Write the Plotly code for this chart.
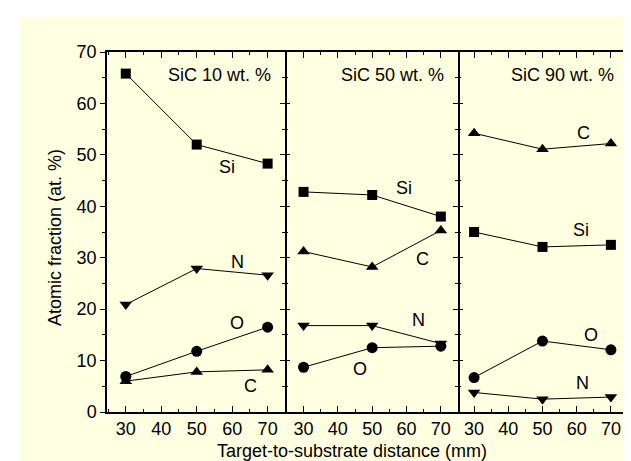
import plotly.graph_objects as go

distance = [30, 50, 70]
panels = ["SiC 10 wt. %", "SiC 50 wt. %", "SiC 90 wt. %"]

si_10 = [65.8, 52.0, 48.3]
n_10 = [20.9, 27.9, 26.6]
o_10 = [6.9, 11.8, 16.5]
c_10 = [6.0, 7.8, 8.2]

si_50 = [42.8, 42.2, 38.0]
c_50 = [31.2, 28.2, 35.3]
n_50 = [16.8, 16.8, 13.3]
o_50 = [8.7, 12.5, 12.8]

c_90 = [54.2, 51.1, 52.2]
si_90 = [35.0, 32.1, 32.5]
o_90 = [6.7, 13.8, 12.1]
n_90 = [3.8, 2.5, 2.9]

x_ticks = [30, 40, 50, 60, 70]
y_ticks = [0, 10, 20, 30, 40, 50, 60, 70]

symbols = {"Si": "square", "C": "triangle-up", "N": "triangle-down", "O": "circle"}
series = [
    [("Si", si_10), ("N", n_10), ("O", o_10), ("C", c_10)],
    [("Si", si_50), ("C", c_50), ("N", n_50), ("O", o_50)],
    [("C", c_90), ("Si", si_90), ("O", o_90), ("N", n_90)],
]
# label placements (data coordinates of each panel)
label_pos = [
    {"Si": (58.5, 47.7), "N": (61.6, 29.2), "O": (61.4, 17.4), "C": (65.3, 5.1)},
    {"Si": (59.2, 43.6), "C": (64.8, 29.7), "N": (63.6, 17.8), "O": (46.4, 8.4)},
    {"C": (62.1, 54.3), "Si": (61.2, 35.4), "O": (64.1, 14.9), "N": (61.8, 5.6)},
]

W, H = 631, 461
L, R, T, B = 99, 11, 44, 57
pw = W - L - R
ph = H - T - B
edges = [99, 277, 450, 620]
xranges = [[24.7, 74.9], [24.6, 75.0], [25.3, 75.0]]

FONT = "Liberation Sans, Arial, sans-serif"
FS = 18
YEL = "#FFFFE2"

fig = go.Figure()
msize = {"square": 10, "triangle-up": 11, "triangle-down": 11, "circle": 11}

for i in range(3):
    xa = "x" if i == 0 else f"x{i+1}"
    ya = "y" if i == 0 else f"y{i+1}"
    for name, vals in series[i]:
        sym = symbols[name]
        fig.add_trace(go.Scatter(
            x=distance, y=vals, mode="lines+markers", xaxis=xa, yaxis=ya,
            line=dict(color="black", width=1),
            marker=dict(symbol=sym, size=msize[sym], color="black"),
            showlegend=False, hoverinfo="skip"))
        lx, ly = label_pos[i][name]
        fig.add_annotation(x=lx, y=ly, xref=xa, yref=ya, text=name, showarrow=False,
                           font=dict(size=FS, color="black", family=FONT))
    fig.add_annotation(x=71.6, y=65.6, xref=xa, yref=ya, text=panels[i], showarrow=False,
                       xanchor="right", yanchor="middle",
                       font=dict(size=FS, color="black", family=FONT))


def dom(a, b):
    return [(a - L) / pw, (b - L) / pw]


LW = 1.5
axcommon_x = dict(showline=True, linecolor="black", linewidth=LW, mirror="ticks",
                  ticks="inside", ticklen=6, tickwidth=1, tickcolor="black",
                  tickvals=x_ticks, showgrid=False, zeroline=False,
                  minor=dict(dtick=5, tick0=0, ticks="inside", ticklen=3, tickcolor="black", showgrid=False),
                  tickfont=dict(size=FS, color="black", family=FONT))


def yax(**kw):
    d = dict(range=[0, 70], linecolor="black", linewidth=LW,
             tickvals=y_ticks, ticklen=5, tickwidth=1, tickcolor="black",
             showgrid=False, zeroline=False, showticklabels=False,
             tickfont=dict(size=FS, color="black", family=FONT),
             minor=dict(dtick=5, tick0=0, ticks=kw.get("ticks", "inside"), ticklen=3, tickcolor="black"))
    d.update(kw)
    return d


layout = dict(
    width=W, height=H, margin=dict(l=L, r=R, t=T, b=B),
    paper_bgcolor="white", plot_bgcolor="rgba(0,0,0,0)",
)
for i in range(3):
    key = "xaxis" if i == 0 else f"xaxis{i+1}"
    anchor = "y" if i == 0 else f"y{i+1}"
    layout[key] = dict(axcommon_x, domain=dom(edges[i], edges[i+1]), range=xranges[i], anchor=anchor)

layout["yaxis"] = yax(anchor="x", ticks="outside", showline=True, showticklabels=True)
layout["yaxis2"] = yax(anchor="x2", ticks="inside", showline=False)
layout["yaxis3"] = yax(anchor="x3", ticks="inside", showline=False)
layout["yaxis4"] = yax(anchor="x", overlaying="y", side="right", ticks="inside", showline=True)
layout["yaxis5"] = yax(anchor="x2", overlaying="y2", side="right", ticks="inside", showline=True)
layout["yaxis6"] = yax(anchor="x3", overlaying="y3", side="right", ticks="inside", showline=True)
fig.update_layout(**layout)
for xa, ya in [("x", "y4"), ("x2", "y5"), ("x3", "y6")]:
    fig.add_trace(go.Scatter(x=[None], y=[None], xaxis=xa, yaxis=ya, showlegend=False, hoverinfo="skip"))

fig.add_shape(type="rect", xref="paper", yref="paper",
              x0=(11 - L) / pw, x1=(W - L) / pw,
              y0=(T + ph - H) / ph, y1=(T + ph - 9) / ph,
              fillcolor=YEL, line=dict(width=0), layer="below")

fig.add_annotation(xref="paper", yref="paper", x=(344 - L) / pw, y=(T + ph - 442.7) / ph,
                   text="Target-to-substrate distance (mm)", showarrow=False,
                   xanchor="center", yanchor="middle",
                   font=dict(size=FS, color="black", family=FONT))
fig.add_annotation(xref="paper", yref="paper", x=(47 - L) / pw, y=(T + ph - 230) / ph,
                   text="Atomic fraction (at. %)", showarrow=False, textangle=-90,
                   xanchor="center", yanchor="middle",
                   font=dict(size=FS, color="black", family=FONT))

fig.write_html("out.html")
